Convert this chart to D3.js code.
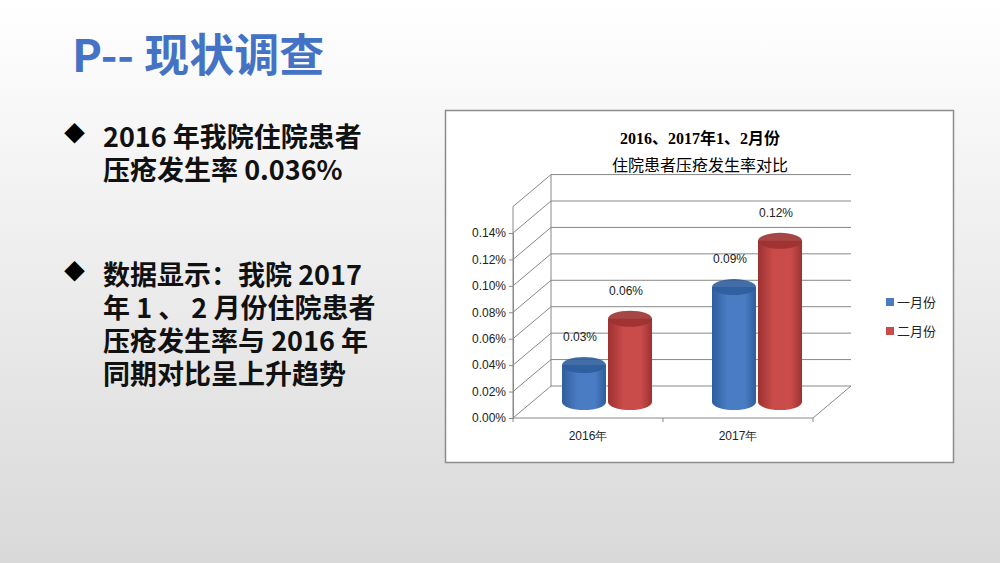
<!DOCTYPE html>
<html><head><meta charset="utf-8">
<script src="https://cdn.jsdelivr.net/npm/d3@7"></script>
<style>body{margin:0;font-family:"Noto Sans CJK SC","Noto Sans",sans-serif;}</style>
</head><body><svg id="c" width="1000" height="563"></svg>
<script>
var categories = ["2016年", "2017年"];
var seriesNames = ["一月份", "二月份"];
var janValues = [0.028, 0.087];
var febValues = [0.063, 0.122];
var yTicks = [0, 0.02, 0.04, 0.06, 0.08, 0.10, 0.12, 0.14];
var colors = ["#4a7cc4", "#c94b4a"];
var darks = ["#2f5d9c", "#9c3231"];

var pct = function (v) { return d3.format(".2f")(v) + "%"; };

var svg = d3.select("#c");
var defs = svg.append("defs");
var bg = defs.append("linearGradient").attr("id", "bg").attr("x1", 0).attr("y1", 0).attr("x2", 0).attr("y2", 1);
bg.append("stop").attr("offset", "0").attr("stop-color", "#ffffff");
bg.append("stop").attr("offset", "1").attr("stop-color", "#d9d9d9");
svg.append("rect").attr("width", 1000).attr("height", 563).attr("fill", "url(#bg)");

colors.forEach(function (c, i) {
    var g = defs.append("linearGradient").attr("id", "cyl" + i);
    g.append("stop").attr("offset", "0").attr("stop-color", darks[i]);
    g.append("stop").attr("offset", "0.35").attr("stop-color", c);
    g.append("stop").attr("offset", "0.75").attr("stop-color", c);
    g.append("stop").attr("offset", "1").attr("stop-color", darks[i]);
});

svg.append("text").attr("x", 72).attr("y", 72).attr("fill", "#4472c4")
    .attr("font-size", 45).attr("font-weight", "bold").text("P-- 现状调查");

var bullets = [
    {y: 147, lines: ["2016 年我院住院患者", "压疮发生率 0.036%"]},
    {y: 285, lines: ["数据显示：我院 2017", "年 1 、 2 月份住院患者", "压疮发生率与 2016 年", "同期对比呈上升趋势"]}
];
bullets.forEach(function (b) {
    svg.append("text").attr("x", 64).attr("y", b.y - 6).attr("font-size", 21).text("◆");
    b.lines.forEach(function (l, j) {
        svg.append("text").attr("x", 103).attr("y", b.y + j * 33).attr("font-size", 27)
            .attr("font-weight", "bold").attr("fill", "#111").text(l);
    });
});

svg.append("rect").attr("x", 445.5).attr("y", 110.5).attr("width", 508).attr("height", 352)
    .attr("fill", "#fff").attr("stroke", "#8c8c8c").attr("stroke-width", 1.5);
svg.append("text").attr("x", 700).attr("y", 144).attr("text-anchor", "middle").attr("font-size", 16)
    .attr("font-weight", "bold").attr("font-family", "Liberation Serif, Noto Sans CJK SC").text("2016、2017年1、2月份");
svg.append("text").attr("x", 700).attr("y", 171).attr("text-anchor", "middle").attr("font-size", 16)
    .text("住院患者压疮发生率对比");

var dx = 38, dy = -32;
var y = d3.scaleLinear().domain([0, 0.14]).range([418, 233]);
var x = d3.scaleBand().domain(categories).range([513, 813]);
var gridColor = "#888";

var grid = svg.append("g").attr("stroke", gridColor).attr("fill", "none");
yTicks.concat([0.16]).forEach(function (t) {
    grid.append("line").attr("x1", 513 + dx).attr("x2", 851).attr("y1", y(t) + dy).attr("y2", y(t) + dy);
    grid.append("line").attr("x1", 513).attr("y1", y(t)).attr("x2", 513 + dx).attr("y2", y(t) + dy);
});
grid.append("line").attr("x1", 513 + dx).attr("x2", 513 + dx).attr("y1", y(0.16) + dy).attr("y2", y(0) + dy);
grid.append("path").attr("d", "M513," + y(0) + "L813," + y(0) + "L851," + (y(0) + dy));

var ax = svg.append("g").attr("transform", "translate(513,0)")
    .call(d3.axisLeft(y).tickValues(yTicks).tickSize(4).tickFormat(pct));
ax.select(".domain").attr("stroke", gridColor);
ax.selectAll("line").attr("stroke", gridColor);
ax.selectAll("text").attr("font-size", 12).attr("fill", "#222").attr("font-family", "Liberation Sans");
svg.append("line").attr("x1", 513).attr("x2", 513).attr("y1", y(0.16)).attr("y2", y(0)).attr("stroke", gridColor);

var xa = svg.append("g").attr("transform", "translate(0," + y(0) + ")")
    .call(d3.axisBottom(x).tickSize(0));
xa.select(".domain").remove();
xa.selectAll("text").attr("font-size", 12).attr("dy", "1.6em").attr("fill", "#222");
svg.selectAll(".xt").data([513, 663, 813]).enter().append("line")
    .attr("x1", function (d) { return d; }).attr("x2", function (d) { return d; })
    .attr("y1", y(0)).attr("y2", y(0) + 4).attr("stroke", gridColor);

var rx = 22, ry = 8;
var series = [janValues, febValues];
categories.forEach(function (c, ci) {
    series.forEach(function (vals, si) {
        var v = vals[ci];
        var cx = x(c) + x.bandwidth() / 2 + (si === 0 ? -23 : 23) + dx / 2;
        var yb = y(0) + dy / 2, yt = y(v) + dy / 2;
        var g = svg.append("g");
        g.append("path").attr("fill", "url(#cyl" + si + ")")
            .attr("d", "M" + (cx - rx) + "," + yt + "L" + (cx - rx) + "," + yb +
                "A" + rx + "," + ry + " 0 0 0 " + (cx + rx) + "," + yb +
                "L" + (cx + rx) + "," + yt + "Z");
        g.append("ellipse").attr("cx", cx).attr("cy", yt).attr("rx", rx).attr("ry", ry)
            .attr("fill", darks[si]).attr("opacity", 0.9);
        svg.append("text").attr("x", cx - 4).attr("y", yt - 24).attr("text-anchor", "middle")
            .attr("font-size", 12).attr("fill", "#222").attr("font-family", "Liberation Sans")
            .text(pct(Math.round(v * 100) / 100));
    });
});

seriesNames.forEach(function (n, i) {
    svg.append("rect").attr("x", 886).attr("y", 298 + i * 29).attr("width", 8).attr("height", 8).attr("fill", colors[i]);
    svg.append("text").attr("x", 897).attr("y", 307 + i * 29).attr("font-size", 13).attr("fill", "#222").text(n);
});
</script></body></html>
